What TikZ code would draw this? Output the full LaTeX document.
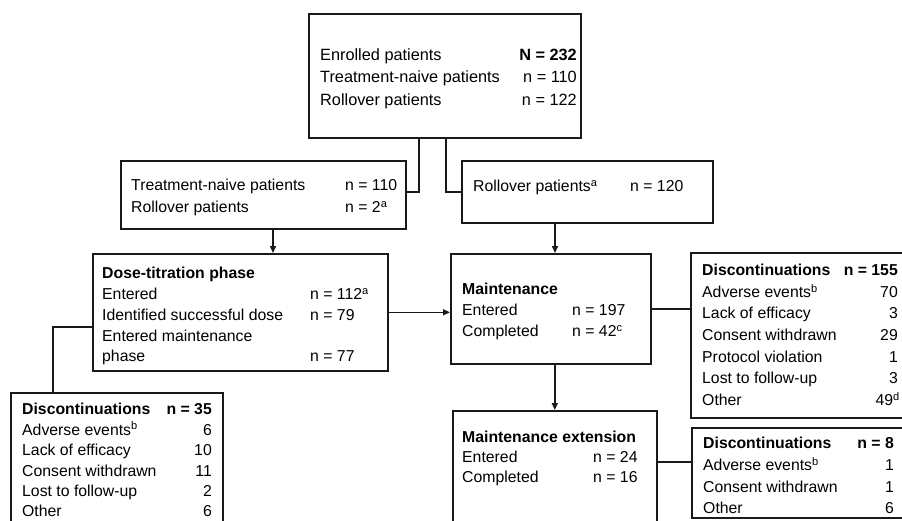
\documentclass[tikz,border=0pt]{standalone}
\usepackage{fontspec}
\setmainfont{Liberation Sans}
\usetikzlibrary{arrows.meta}
\newcommand{\fsz}{\fontsize{15.8}{18}\selectfont}
\begin{document}
\begin{tikzpicture}[x=1pt,y=-1pt,
  box/.style={draw=black!90, line width=1.6pt, anchor=north west, inner sep=0pt},
  lab/.style={anchor=base west, inner sep=0pt, font=\fsz},
  val/.style={anchor=base east, inner sep=0pt, font=\fsz},
  hd/.style={anchor=base west, inner sep=0pt, font=\fsz\bfseries},
  hdv/.style={anchor=base east, inner sep=0pt, font=\fsz\bfseries},
  conn/.style={draw=black!90, line width=1.5pt},
  arr/.style={conn, -{Triangle[length=7pt,width=6pt]}}]
\useasboundingbox (0,0) rectangle (902,520);

% boxes
\node[box, minimum width=272pt, minimum height=124pt] (top) at (308,13) {};
\node[box, minimum width=285pt, minimum height=68pt] (B) at (120,160) {};
\node[box, minimum width=251pt, minimum height=62pt] (C) at (461,160) {};
\node[box, minimum width=295pt, minimum height=117pt] (D) at (92,253) {};
\node[box, minimum width=200pt, minimum height=110pt] (M) at (450,253) {};
\node[box, minimum width=204pt, minimum height=130pt] (X) at (452,410) {};
\node[box, minimum width=220pt, minimum height=165pt] (P) at (690,252) {};
\node[box, minimum width=220pt, minimum height=90pt] (Q) at (691,427) {};
\node[box, minimum width=212pt, minimum height=140pt] (R) at (10,392) {};

% top box text
\node[lab, font=\fontsize{16.3}{18}\selectfont] (t1) at (320,60.5) {Enrolled patients};
\node[lab, font=\fontsize{16.3}{18}\selectfont] (t2) at (320,82.5) {Treatment-naive patients};
\node[lab, font=\fontsize{16.3}{18}\selectfont] (t3) at (320,105.5) {Rollover patients};
\node[val, font=\fontsize{16.3}{18}\selectfont\bfseries] (t1v) at (577,60.5) {N = 232};
\node[val, font=\fontsize{16.3}{18}\selectfont] (t2v) at (577,82.5) {n = 110};
\node[val, font=\fontsize{16.3}{18}\selectfont] (t3v) at (577,105.5) {n = 122};

% box B
\node[lab] (b1) at (131,190.5) {Treatment-naive patients};
\node[lab] (b2) at (131,212.5) {Rollover patients};
\node[lab] (b1v) at (345,190.5) {n = 110};
\node[lab] (b2v) at (345,212.5) {n = 2\textsuperscript{a}};

% box C
\node[lab] (c1) at (473,191.5) {Rollover patients\textsuperscript{a}};
\node[lab] (c1v) at (630,191.5) {n = 120};

% box D
\node[hd] (d0) at (102,278.5) {Dose-titration phase};
\node[lab] (d1) at (102,299.5) {Entered};
\node[lab] (d2) at (102,320.5) {Identified successful dose};
\node[lab] (d3) at (102,341.5) {Entered maintenance};
\node[lab] (d4) at (102,361.5) {phase};
\node[lab] (d1v) at (310,299.5) {n = 112\textsuperscript{a}};
\node[lab] (d2v) at (310,320.5) {n = 79};
\node[lab] (d4v) at (310,361.5) {n = 77};

% box M
\node[hd] (m0) at (462,294.5) {Maintenance};
\node[lab] (m1) at (462,315.5) {Entered};
\node[lab] (m2) at (462,336.5) {Completed};
\node[lab] (m1v) at (572,315.5) {n = 197};
\node[lab] (m2v) at (572,336.5) {n = 42\textsuperscript{c}};

% box X
\node[hd] (x0) at (462,442.5) {Maintenance extension};
\node[lab] (x1) at (462,462.5) {Entered};
\node[lab] (x2) at (462,482.5) {Completed};
\node[lab] (x1v) at (593,462.5) {n = 24};
\node[lab] (x2v) at (593,482.5) {n = 16};

% box P
\node[hd] (p0) at (702,275.5) {Discontinuations};
\node[hdv] (p0v) at (898,275.5) {n = 155};
\node[lab] (p1) at (702,297.5) {Adverse events\textsuperscript{b}};
\node[val] (p1v) at (898,297.5) {70};
\node[lab] (p2) at (702,318.5) {Lack of efficacy};
\node[val] (p2v) at (898,318.5) {3};
\node[lab] (p3) at (702,340.5) {Consent withdrawn};
\node[val] (p3v) at (898,340.5) {29};
\node[lab] (p4) at (702,362.5) {Protocol violation};
\node[val] (p4v) at (898,362.5) {1};
\node[lab] (p5) at (702,383.5) {Lost to follow-up};
\node[val] (p5v) at (898,383.5) {3};
\node[lab] (p6) at (702,405.5) {Other};
\node[val] (p6v) at (900,405.5) {49\textsuperscript{d}};

% box Q
\node[hd] (q0) at (703,448.5) {Discontinuations};
\node[hdv] (q0v) at (894,448.5) {n = 8};
\node[lab] (q1) at (703,470.5) {Adverse events\textsuperscript{b}};
\node[val] (q1v) at (894,470.5) {1};
\node[lab] (q2) at (703,492.5) {Consent withdrawn};
\node[val] (q2v) at (894,492.5) {1};
\node[lab] (q3) at (703,513.5) {Other};
\node[val] (q3v) at (894,513.5) {6};

% box R
\node[hd] (r0) at (22,414.5) {Discontinuations};
\node[hdv] (r0v) at (212,414.5) {n = 35};
\node[lab] (r1) at (22,435) {Adverse events\textsuperscript{b}};
\node[val] (r1v) at (212,435) {6};
\node[lab] (r2) at (22,455.5) {Lack of efficacy};
\node[val] (r2v) at (212,455.5) {10};
\node[lab] (r3) at (22,476) {Consent withdrawn};
\node[val] (r3v) at (212,476) {11};
\node[lab] (r4) at (22,496.5) {Lost to follow-up};
\node[val] (r4v) at (212,496.5) {2};
\node[lab] (r5) at (22,516.5) {Other};
\node[val] (r5v) at (212,516.5) {6};

% connector coordinates
\coordinate (jL) at (419,192);
\coordinate (jR) at (446,192);
\coordinate (aBD) at (273,0);
\coordinate (aCM) at (555,0);
\coordinate (jD) at (53,327);
\coordinate (jX) at (0,462);

% connectors
\draw[conn] (top.south -| jL) -- (jL) -- (jL -| B.east);
\draw[conn] (top.south -| jR) -- (jR) -- (jR -| C.west);
\draw[arr] (B.south -| aBD) -- (D.north -| aBD);
\draw[arr] (C.south -| aCM) -- (M.north -| aCM);
\draw[arr] (D.east) -- (D.east -| M.west);
\draw[conn] (M.east) -- (M.east -| P.west);
\draw[arr] (X.north |- M.south) -- (X.north);
\draw[conn] (jX -| X.east) -- (jX -| Q.west);
\draw[conn] (jD -| D.west) -- (jD) -- (jD |- R.north);
\end{tikzpicture}
\end{document}
